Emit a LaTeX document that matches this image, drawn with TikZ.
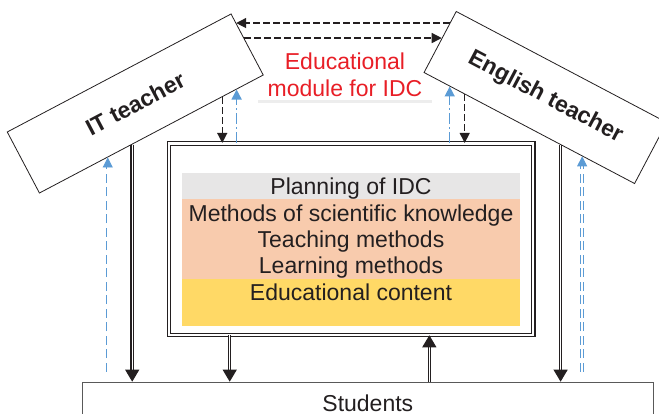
\documentclass[tikz,border=0pt]{standalone}
\usepackage{fontspec}
\setmainfont{Liberation Sans}
\usetikzlibrary{arrows.meta,calc}

\definecolor{ink}{RGB}{35,31,32}
\definecolor{modred}{RGB}{232,30,38}
\definecolor{linkblue}{RGB}{91,155,213}
\definecolor{bandgray}{RGB}{231,230,230}
\definecolor{bandpeach}{RGB}{248,203,173}
\definecolor{bandgold}{RGB}{255,217,102}

\tikzset{
  teacher/.style={draw=ink, line width=0.8pt, fill=white, inner sep=0pt,
    minimum height=69pt, text=ink, font=\fontsize{23}{27}\selectfont\bfseries},
  item/.style={anchor=base, inner sep=0pt, text=ink, font=\fontsize{23}{27}\selectfont},
  flow/.style={draw=ink, line width=1.1pt, double=white, double distance=1.3pt,
    -{Triangle[length=12pt,width=14pt]}},
  order/.style={draw=ink, line width=1.3pt, dash pattern=on 6.5pt off 3.5pt,
    -{Triangle[length=10pt,width=10pt]}},
  reply/.style={draw=linkblue, line width=1.5pt, dash pattern=on 11pt off 3pt on 2pt off 3pt,
    -{Triangle[length=10pt,width=10pt]}},
  feedback/.style={draw=linkblue, line width=0.9pt, double=white, double distance=1.6pt,
    dash pattern=on 9pt off 4.5pt, -{Triangle[length=10pt,width=10pt]}}
}

\begin{document}
\begin{tikzpicture}[x=1pt, y=-1pt]
\useasboundingbox (0,0) rectangle (659,414);

% the two teachers
\node[teacher, rotate=27.8, minimum width=253pt] (it) at (135.25,103.5) {IT teacher};
\node[teacher, rotate=-27.8, minimum width=238pt] (en) at (545.4,97.5) {English teacher};

% module title
\node[align=center, inner sep=0pt, text=modred, font=\fontsize{23}{26.7}\selectfont] (title) at (345,74.5) {Educational\\module for IDC};
\fill[black!7] (258,100.5) rectangle (432,103.2);

% module frame and its layers
\node[draw=ink, line width=1.1pt, double=white, double distance=2.1pt,
  minimum width=364.5pt, minimum height=191.2pt] (mod) at (351.1,239.1) {};
\fill[bandgray] (182,172.7) rectangle (520,199);
\fill[bandpeach] (182,199) rectangle (520,279);
\fill[bandgold] (182,279) rectangle (520,326);
\node[item] (plan) at (351,194.3) {Planning of IDC};
\node[item] (meth) at (351,221.7) {Methods of scientific knowledge};
\node[item] (teach) at (351,247.9) {Teaching methods};
\node[item] (learn) at (351,274) {Learning methods};
\node[item] (cont) at (351,301) {Educational content};

% students
\node[draw=black!65, line width=1pt, anchor=north, minimum width=571pt, inner ysep=13pt,
  text height=16.5pt, text depth=20pt, text=ink, font=\fontsize{23}{27}\selectfont] (stu) at (367.8,381.7) {Students};

% points on the box edges
\coordinate (itA) at ($(it.south west)!0.305!(it.south east)$);
\coordinate (itB) at ($(it.south west)!0.414!(it.south east)$);
\coordinate (itC) at ($(it.south west)!0.815!(it.south east)$);
\coordinate (itD) at ($(it.south west)!0.879!(it.south east)$);
\coordinate (itT1) at ($(it.north east)!0.152!(it.south east)$);
\coordinate (itT2) at ($(it.north east)!0.398!(it.south east)$);
\coordinate (enA) at ($(en.south west)!0.124!(en.south east)$);
\coordinate (enB) at ($(en.south west)!0.195!(en.south east)$);
\coordinate (enC) at ($(en.south west)!0.649!(en.south east)$);
\coordinate (enD) at ($(en.south west)!0.751!(en.south east)$);
\coordinate (enT1) at ($(en.north west)!0.196!(en.south west)$);
\coordinate (enT2) at ($(en.north west)!0.44!(en.south west)$);
\coordinate (modA) at ($(mod.south west)!0.168!(mod.south east)$);
\coordinate (modB) at ($(mod.south west)!0.714!(mod.south east)$);

% teacher to teacher
\draw[order] (enT1) -- (enT1 -| itT1);
\draw[order] (itT2) -- (itT2 -| enT2);

% teachers and module
\draw[order] (itC) -- (itC |- mod.north);
\draw[reply] (itD |- mod.north) -- (itD);
\draw[reply] (enA |- mod.north) -- (enA);
\draw[order] (enB) -- (enB |- mod.north);

% down to the students and back
\draw[flow] (itB) -- (itB |- stu.north);
\draw[flow] (enC) -- (enC |- stu.north);
\draw[flow] (modA) -- (modA |- stu.north);
\draw[flow] (modB |- stu.north) -- (modB);
\draw[feedback] ($(itA |- stu.north)+(0,-10)$) -- (itA);
\draw[feedback] ($(enD |- stu.north)+(0,-10)$) -- (enD);
\end{tikzpicture}
\end{document}
